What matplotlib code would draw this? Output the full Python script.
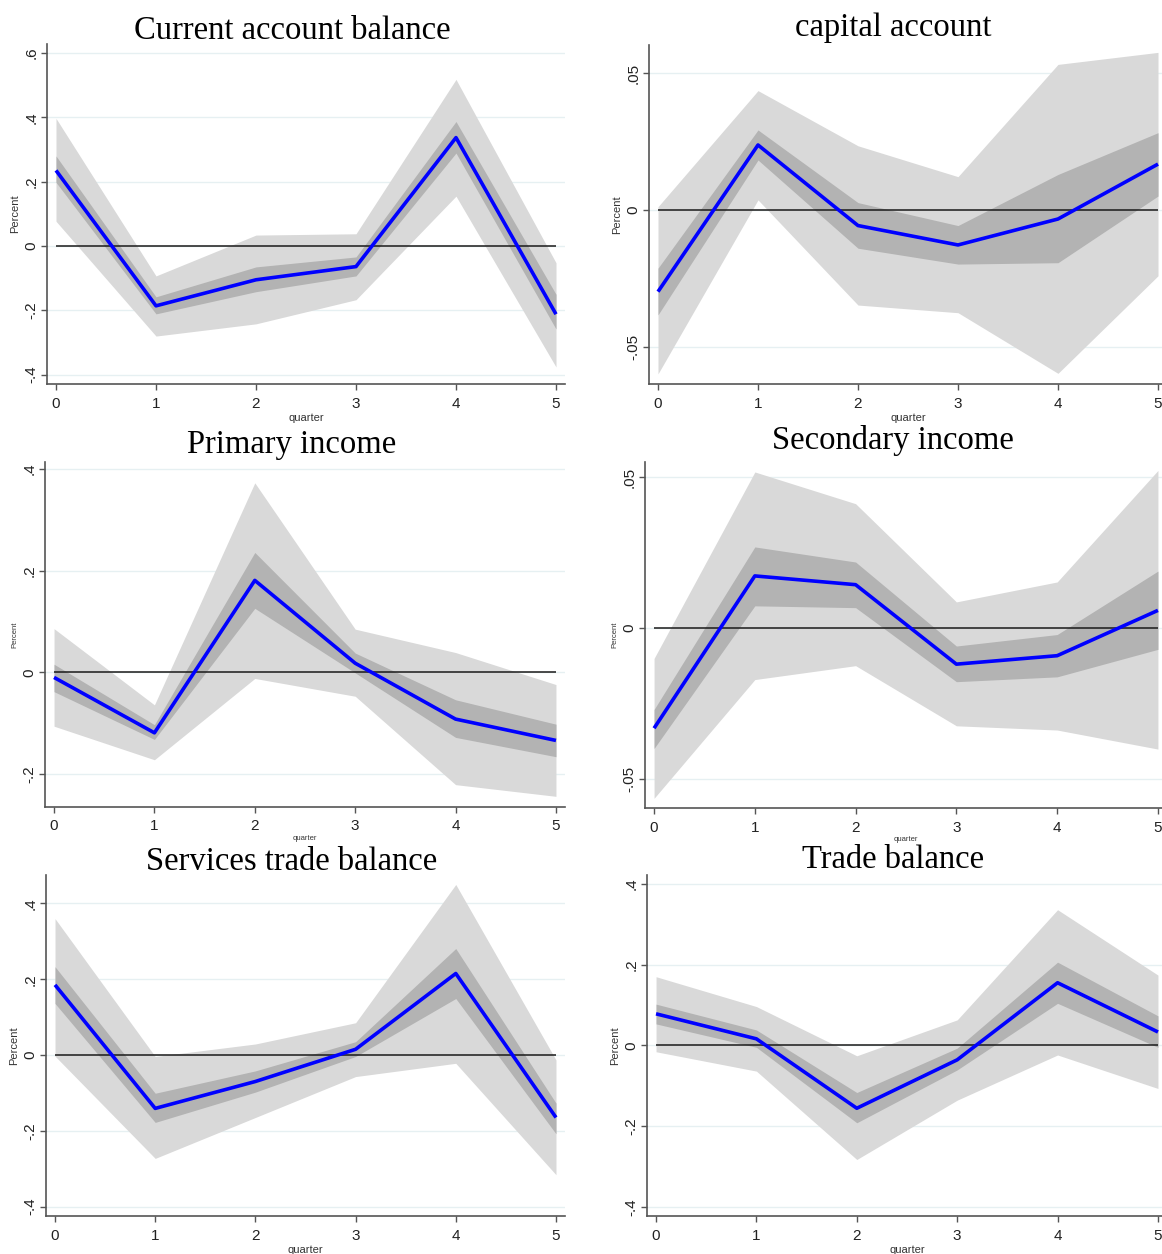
"""Impulse responses of balance-of-payments components (6 panels, Stata style)."""

import matplotlib

matplotlib.use("Agg")
import matplotlib.pyplot as plt
from matplotlib.ticker import FuncFormatter

W, H = 1162, 1254

QUARTERS = [0, 1, 2, 3, 4, 5]

# Current account balance
CA_MEAN = [0.235, -0.186, -0.105, -0.064, 0.337, -0.212]
CA_LO68 = [0.198, -0.211, -0.142, -0.093, 0.289, -0.258]
CA_HI68 = [0.280, -0.158, -0.065, -0.034, 0.387, -0.150]
CA_LO90 = [0.077, -0.280, -0.242, -0.167, 0.155, -0.376]
CA_HI90 = [0.397, -0.093, 0.034, 0.038, 0.518, -0.052]

# capital account
KA_MEAN = [-0.0299, 0.0238, -0.0057, -0.0128, -0.0033, 0.0168]
KA_LO68 = [-0.0384, 0.0183, -0.0140, -0.0198, -0.0193, 0.0051]
KA_HI68 = [-0.0213, 0.0293, 0.0027, -0.0057, 0.0130, 0.0283]
KA_LO90 = [-0.0600, 0.0037, -0.0348, -0.0376, -0.0598, -0.0241]
KA_HI90 = [0.0012, 0.0437, 0.0235, 0.0122, 0.0533, 0.0577]

# Primary income
PI_MEAN = [-0.010, -0.119, 0.181, 0.018, -0.092, -0.134]
PI_LO68 = [-0.038, -0.132, 0.126, -0.001, -0.128, -0.166]
PI_HI68 = [0.016, -0.103, 0.236, 0.038, -0.054, -0.102]
PI_LO90 = [-0.106, -0.172, -0.012, -0.047, -0.221, -0.244]
PI_HI90 = [0.086, -0.064, 0.373, 0.085, 0.039, -0.024]

# Secondary income
SI_MEAN = [-0.0331, 0.0173, 0.0144, -0.0119, -0.0091, 0.0059]
SI_LO68 = [-0.0398, 0.0074, 0.0068, -0.0177, -0.0161, -0.0070]
SI_HI68 = [-0.0269, 0.0269, 0.0219, -0.0059, -0.0021, 0.0189]
SI_LO90 = [-0.0563, -0.0170, -0.0124, -0.0323, -0.0337, -0.0400]
SI_HI90 = [-0.0100, 0.0517, 0.0412, 0.0087, 0.0153, 0.0522]

# Services trade balance
ST_MEAN = [0.185, -0.141, -0.070, 0.015, 0.215, -0.165]
ST_LO68 = [0.136, -0.178, -0.098, -0.004, 0.149, -0.208]
ST_HI68 = [0.233, -0.101, -0.042, 0.035, 0.281, -0.127]
ST_LO90 = [-0.003, -0.273, -0.165, -0.057, -0.022, -0.316]
ST_HI90 = [0.360, -0.004, 0.029, 0.085, 0.450, -0.013]

# Trade balance
TB_MEAN = [0.078, 0.016, -0.156, -0.036, 0.155, 0.033]
TB_LO68 = [0.053, -0.005, -0.192, -0.061, 0.104, -0.005]
TB_HI68 = [0.102, 0.038, -0.117, -0.007, 0.206, 0.073]
TB_LO90 = [-0.016, -0.064, -0.283, -0.136, -0.024, -0.107]
TB_HI90 = [0.170, 0.096, -0.026, 0.063, 0.336, 0.174]

TITLES = ["Current account balance", "capital account", "Primary income",
          "Secondary income", "Services trade balance", "Trade balance"]
YTICKS = [
    [-0.4, -0.2, 0, 0.2, 0.4, 0.6],
    [-0.05, 0, 0.05],
    [-0.2, 0, 0.2, 0.4],
    [-0.05, 0, 0.05],
    [-0.4, -0.2, 0, 0.2, 0.4],
    [-0.4, -0.2, 0, 0.2, 0.4],
]
YLIMS = [(-0.429, 0.628), (-0.0637, 0.0604), (-0.265, 0.414),
         (-0.0595, 0.055), (-0.425, 0.475), (-0.423, 0.422)]

SERIES = [
    (CA_MEAN, CA_LO68, CA_HI68, CA_LO90, CA_HI90),
    (KA_MEAN, KA_LO68, KA_HI68, KA_LO90, KA_HI90),
    (PI_MEAN, PI_LO68, PI_HI68, PI_LO90, PI_HI90),
    (SI_MEAN, SI_LO68, SI_HI68, SI_LO90, SI_HI90),
    (ST_MEAN, ST_LO68, ST_HI68, ST_LO90, ST_HI90),
    (TB_MEAN, TB_LO68, TB_HI68, TB_LO90, TB_HI90),
]

# pixel boxes: left, top, right, bottom of the plot region
BOXES = [(47, 44, 565, 384), (649, 45, 1167, 384),
         (45, 462, 565, 807), (645, 462, 1167, 808),
         (46, 875, 565, 1216), (647, 875, 1167, 1216)]
# the middle row was shrunk in the source, so its axis titles are tiny
SMALL = [False, False, True, True, False, False]
TITLE_Y = [31, 28, 445, 441, 862, 860]


def stata_fmt(v, _pos=None):
    if abs(v) < 1e-12:
        return "0"
    return f"{v:g}".replace("0.", ".")


def main():
    plt.rcParams["font.family"] = ["Liberation Sans", "DejaVu Sans"]
    fig = plt.figure(figsize=(W / 100, H / 100), dpi=100)

    for i, (title, box) in enumerate(zip(TITLES, BOXES)):
        l, t, r, b = box
        ax = fig.add_axes([l / W, 1 - b / H, (r - l) / W, (b - t) / H])
        mean, lo68, hi68, lo90, hi90 = SERIES[i]

        ax.fill_between(QUARTERS, lo90, hi90, color="#d9d9d9", lw=0, zorder=1)
        ax.fill_between(QUARTERS, lo68, hi68, color="#b3b3b3", lw=0, zorder=2)
        ax.hlines(0, QUARTERS[0], QUARTERS[-1], color="#1a1a1a", lw=1.1, zorder=3)
        ax.plot(QUARTERS, mean, color="#0000ff", lw=2.6, zorder=4,
                solid_capstyle="butt")

        ax.set_xlim(-0.09, 5.09)
        ax.set_ylim(*YLIMS[i])
        ax.set_xticks(QUARTERS)
        ax.set_yticks(YTICKS[i])
        ax.yaxis.set_major_formatter(FuncFormatter(stata_fmt))
        ax.grid(axis="y", color="#e6f0f2", lw=1.0, zorder=0)
        ax.set_axisbelow(True)

        for side in ("top", "right"):
            ax.spines[side].set_visible(False)
        for side in ("left", "bottom"):
            ax.spines[side].set_color("#555555")
            ax.spines[side].set_linewidth(1.2)

        ax.tick_params(axis="both", direction="out", length=4, width=1,
                       color="#555555", labelsize=11, labelcolor="#222222")
        ax.tick_params(axis="x", pad=5)
        ax.tick_params(axis="y", pad=2)
        for lab in ax.get_yticklabels():
            lab.set_rotation(90)
            lab.set_va("center")

        small = SMALL[i]
        ax.set_xlabel("quarter", fontsize=5.5 if small else 8,
                      labelpad=1 if small else 2, color="#333333")
        ax.set_ylabel("Percent", fontsize=5.5 if small else 8, labelpad=3,
                      color="#333333")

        cx = 292 if i % 2 == 0 else 893
        fig.text(cx / W, 1 - TITLE_Y[i] / H, title, ha="center", va="center",
                 fontsize=23.5, family=["Liberation Serif", "DejaVu Serif"])

    fig.savefig("out.png", dpi=100)
    plt.close(fig)


if __name__ == "__main__":
    main()
